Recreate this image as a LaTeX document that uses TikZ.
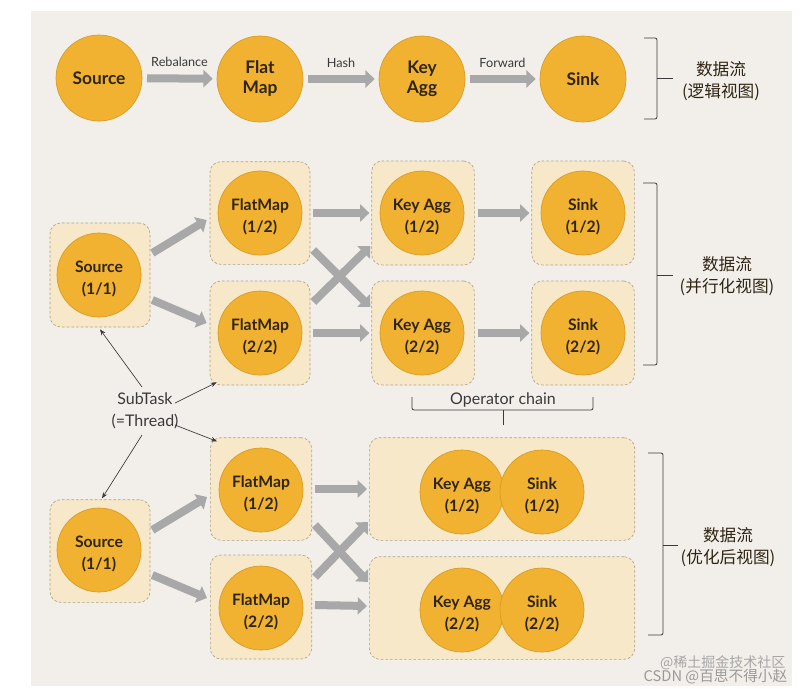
\documentclass[tikz,border=0pt]{standalone}
\usepackage{fontspec}
\setmainfont{Lato}
\newfontfamily\cjk{Noto Sans CJK SC}
\usetikzlibrary{arrows.meta,calc}
\definecolor{panel}{HTML}{F2EFEB}
\definecolor{circfill}{HTML}{F1B232}
\definecolor{circdraw}{HTML}{D99A20}
\definecolor{boxfill}{HTML}{F6E8C8}
\definecolor{boxdraw}{HTML}{B3A282}
\definecolor{arrowgray}{HTML}{A8A8A8}
\definecolor{txt}{HTML}{2E2412}
\definecolor{linecol}{HTML}{3A3A3A}
\newcommand{\oplab}[2]{\raisebox{-3pt}[\height][\depth]{\begin{tabular}{@{}c@{}}#1\\#2\end{tabular}}}
\begin{document}
\begin{tikzpicture}[x=0.75pt,y=-0.75pt,
  opbase/.style={circle, fill=circfill, draw=circdraw, line width=0.5pt, minimum size=63pt, inner sep=0pt,
    text=txt},
  op/.style={opbase, font=\bfseries\fontsize{11.8}{16.5}\selectfont},
  lop/.style={opbase, align=center, minimum size=64.5pt, font=\bfseries\fontsize{13}{15}\selectfont},
  sbox/.style={rectangle, rounded corners=8pt, fill=boxfill, draw=boxdraw, dash pattern=on 2pt off 1.5pt,
    line width=0.5pt, inner sep=0pt},
  fat/.style={draw=arrowgray, line width=6pt, -{Triangle[length=7pt,width=13pt]}},
  thin/.style={draw=linecol, line width=0.5pt, -{Stealth[length=4.5pt,width=3.5pt]}},
  elab/.style={font=\fontsize{9.5}{10}\selectfont, text=linecol},
  brace/.style={draw=linecol, line width=0.6pt, rounded corners=1.5pt},
  cjkl/.style={font=\cjk\fontsize{12.5}{16.5}\selectfont, text=txt, align=center}
]
\useasboundingbox (0,0) rectangle (812,693);
\fill[panel] (31,11) rectangle (792,686);

% ---------- logical view ----------
\node[lop] (ls) at (99,78) {Source};
\node[lop] (lf) at (260,79) {Flat\\Map};
\node[lop] (lk) at (422,79) {Key\\Agg};
\node[lop] (lsk) at (583,79) {Sink};
\draw[fat, shorten <=3.5pt, shorten >=3pt] (ls) -- node[elab, above=2.5pt] {Rebalance} (lf);
\draw[fat, shorten <=3.5pt, shorten >=3pt] (lf) -- node[elab, above=2.5pt] {Hash} (lk);
\draw[fat, shorten <=3.5pt, shorten >=3pt] (lk) -- node[elab, above=2.5pt] {Forward} (lsk);
\draw[brace] (644,38) -- (657,38) -- (657,119) -- (644,119);
\draw[brace] (657,78) -- (673,78);
\node[cjkl] (t1) at (721,81) {数据流\\(逻辑视图)};

% ---------- parallel view ----------
\node[sbox, minimum width=75pt, minimum height=78pt] (bs1) at (100,275) {};
\node[sbox, minimum width=75pt, minimum height=77pt] (bf1) at (260,213) {};
\node[sbox, minimum width=75pt, minimum height=78pt] (bf2) at (260,333) {};
\node[sbox, minimum width=77pt, minimum height=78pt] (bk1) at (423,213) {};
\node[sbox, minimum width=77pt, minimum height=78pt] (bk2) at (423,333) {};
\node[sbox, minimum width=77pt, minimum height=78pt] (bn1) at (583,213) {};
\node[sbox, minimum width=77pt, minimum height=78pt] (bn2) at (583,333) {};
\node[op] (ps) at (99,275) {\oplab{Source}{(1/1)}};
\node[op] (pf1) at (260,213) {\oplab{FlatMap}{(1/2)}};
\node[op] (pf2) at (260,333) {\oplab{FlatMap}{(2/2)}};
\node[op] (pk1) at (422,213) {\oplab{Key Agg}{(1/2)}};
\node[op] (pk2) at (422,333) {\oplab{Key Agg}{(2/2)}};
\node[op] (pn1) at (583,213) {\oplab{Sink}{(1/2)}};
\node[op] (pn2) at (583,333) {\oplab{Sink}{(2/2)}};

\draw[fat] ($(bs1.east)+(2,-22)$) -- ($(bf1.west)+(-3,7)$);
\draw[fat] ($(bs1.east)+(2,25)$) -- ($(bf2.west)+(-3,-10)$);
\draw[fat] ($(bf1.east)+(3,0)$) -- ($(bk1.west)+(-2,0)$);
\draw[fat] ($(bf2.east)+(3,0)$) -- ($(bk2.west)+(-2,0)$);
\draw[fat] ($(bf1.east)+(3,37)$) -- ($(bk2.west)+(-1,-26)$);
\draw[fat] ($(bf2.east)+(3,-31)$) -- ($(bk1.west)+(-1,33)$);
\draw[fat] ($(bk1.east)+(3,0)$) -- ($(bn1.west)+(-2,0)$);
\draw[fat] ($(bk2.east)+(3,0)$) -- ($(bn2.west)+(-2,0)$);

\draw[brace] (643,183) -- (657,183) -- (657,365) -- (643,365);
\draw[brace] (657,275) -- (673,275);
\node[cjkl] (t2) at (727,276) {数据流\\(并行化视图)};

% ---------- operator chain ----------
\draw[brace] (412,397) -- (412,410) -- (593,410) -- (593,397);
\draw[brace] (503,410) -- (503,425);
\node[font=\fontsize{12}{13}\selectfont, text=linecol] (oc) at (503,400) {Operator chain};

% ---------- optimized view ----------
\node[sbox, minimum width=75pt, minimum height=77pt] (bs2) at (100,551) {};
\node[sbox, minimum width=76pt, minimum height=77pt] (bf3) at (261,489) {};
\node[sbox, minimum width=76pt, minimum height=78pt] (bf4) at (261,607) {};
\node[sbox, minimum width=199pt, minimum height=77pt] (bc1) at (502,489) {};
\node[sbox, minimum width=199pt, minimum height=77pt] (bc2) at (502,608) {};
\node[op] (os) at (99,550) {\oplab{Source}{(1/1)}};
\node[op] (of1) at (261,490) {\oplab{FlatMap}{(1/2)}};
\node[op] (of2) at (261,608) {\oplab{FlatMap}{(2/2)}};
\node[op] (ok1) at (462,492) {\oplab{Key Agg}{(1/2)}};
\node[op] (on1) at (542,492) {\oplab{Sink}{(1/2)}};
\node[op] (ok2) at (462,610) {\oplab{Key Agg}{(2/2)}};
\node[op] (on2) at (542,610) {\oplab{Sink}{(2/2)}};

\draw[fat] ($(bs2.east)+(2,-21)$) -- ($(bf3.west)+(-3,8)$);
\draw[fat] ($(bs2.east)+(2,24)$) -- ($(bf4.west)+(-3,-9)$);
\draw[fat] ($(bf3.east)+(3,0)$) -- ($(bc1.west)+(-2,0)$);
\draw[fat] ($(bf4.east)+(3,-2)$) -- ($(bc2.west)+(-2,-2)$);
\draw[fat] ($(bf3.east)+(3,36)$) -- ($(bc2.west)+(-1,-26)$);
\draw[fat] ($(bf4.east)+(3,-30)$) -- ($(bc1.west)+(-1,33)$);

\draw[brace] (648,453) -- (663,453) -- (663,635) -- (648,635);
\draw[brace] (663,545) -- (678,545);
\node[cjkl] (t3) at (728,547) {数据流\\(优化后视图)};

% ---------- subtask labels ----------
\node[font=\fontsize{12}{16.5}\selectfont, text=linecol, align=center] (st) at (145,411) {SubTask\\(=Thread)};
\draw[thin] ($(st)+(-3,-24)$) -- ($(bs1.south)+(0,2)$);
\draw[thin] ($(st)+(30,-8)$) -- ($(bf2.south west)+(7,-3)$);
\draw[thin] ($(st)+(30,14)$) -- ($(bf3.north west)+(7,4)$);
\draw[thin] ($(st)+(-3,24)$) -- ($(bs2.north)+(2,-1)$);

% ---------- watermark ----------
\node[font=\cjk\fontsize{10.5}{12}\selectfont, text=black!35, anchor=east] (w1) at (790,663) {@稀土掘金技术社区};
\node[font=\cjk\fontsize{11}{12}\selectfont, text=black!40, anchor=east] (w2) at (792,677) {CSDN @百思不得小赵};
\end{tikzpicture}
\end{document}
